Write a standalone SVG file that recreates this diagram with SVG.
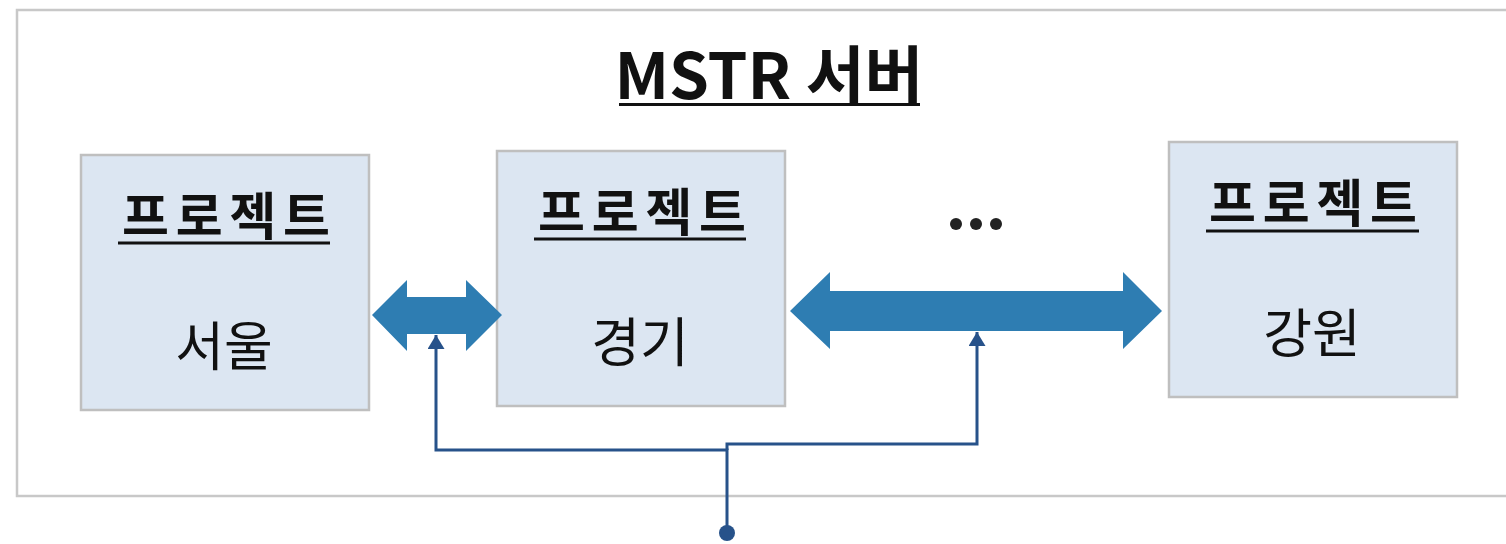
<svg xmlns="http://www.w3.org/2000/svg" width="1506" height="544" viewBox="0 0 1506 544">
<defs>
<style>
.frame{fill:#ffffff;stroke:#c8c8c8;stroke-width:2.5}
.box{fill:#dce6f2;stroke:#bfbfbf;stroke-width:2.5}
.hd{font-family:"Noto Sans CJK KR","Noto Sans",sans-serif;font-weight:bold;font-size:51px;fill:#111}
.bd{font-family:"Noto Sans CJK KR","Noto Sans",sans-serif;font-size:53px;fill:#111;text-anchor:middle}
.ttl{font-family:"Noto Sans CJK KR","Noto Sans",sans-serif;font-weight:bold;font-size:64px;fill:#111;text-anchor:middle}
.ul{stroke:#111;stroke-width:3}
.big{fill:#2e7db2}
.conn{fill:none;stroke:#27528a;stroke-width:3}
</style>
<marker id="ah" viewBox="0 0 14 17" refX="14" refY="8.5" markerWidth="14" markerHeight="17" orient="auto" markerUnits="userSpaceOnUse">
<path d="M0,0 L14,8.5 L0,17 z" fill="#27528a"/>
</marker>
</defs>
<rect class="frame" x="17" y="10" width="1500" height="486"/>
<g id="title">
<text class="ttl" x="769" y="99">MSTR 서버</text>
<line class="ul" x1="619" y1="104.5" x2="920" y2="104.5"/>
</g>
<g id="node-seoul">
<rect class="box" x="81" y="155" width="288" height="255"/>
<text class="hd" x="122" y="235" textLength="208" lengthAdjust="spacing">프로젝트</text>
<line class="ul" x1="118" y1="243" x2="330" y2="243"/>
<text class="bd" x="224" y="366">서울</text>
</g>
<g id="node-gyeonggi">
<rect class="box" x="497" y="151" width="288" height="255"/>
<text class="hd" x="538" y="231" textLength="208" lengthAdjust="spacing">프로젝트</text>
<line class="ul" x1="534" y1="239" x2="746" y2="239"/>
<text class="bd" x="640" y="362">경기</text>
</g>
<g id="node-ellipsis">
<circle cx="956" cy="224" r="6" fill="#222"/>
<circle cx="976" cy="224" r="6" fill="#222"/>
<circle cx="996" cy="224" r="6" fill="#222"/>
</g>
<g id="node-gangwon">
<rect class="box" x="1169" y="142" width="288" height="255"/>
<text class="hd" x="1209" y="222" textLength="208" lengthAdjust="spacing">프로젝트</text>
<line class="ul" x1="1206" y1="231" x2="1419" y2="231"/>
<text class="bd" x="1312" y="353">강원</text>
</g>
<g id="connectors">
<polygon class="big" points="372,315 407,280 407,297 466,297 466,280 502,315 466,351 466,334 407,334 407,351"/>
<polygon class="big" points="790,311 830,272 830,291 1123,291 1123,272 1162,311 1123,349 1123,331 830,331 830,349"/>
<polyline class="conn" points="727,533 727,450 436,450 436,335" marker-end="url(#ah)"/>
<polyline class="conn" points="727,450 727,444 977,444 977,332" marker-end="url(#ah)"/>
<circle cx="727" cy="533" r="8" fill="#27528a"/>
</g>
</svg>
